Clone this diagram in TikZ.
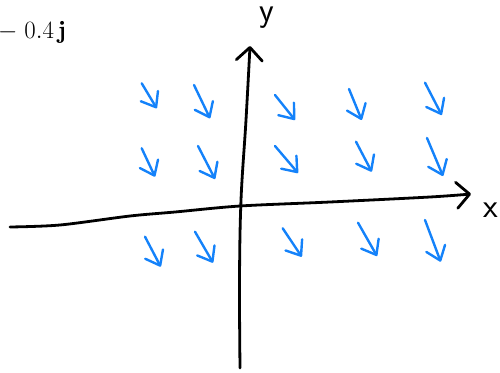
\documentclass[tikz,border=0pt]{standalone}
\usepackage{fontspec}
\usepackage{amsmath,amssymb}
\usepackage{tikz}
\usetikzlibrary{arrows.meta}
\usepackage{xcolor}
\definecolor{fieldblue}{RGB}{20,130,250}
\tikzset{
  axis/.style={line width=2.8pt, black, line cap=round, line join=round,
               -{Straight Barb[round, length=13pt, width=26pt]}},
  vec/.style={line width=2.4pt, fieldblue, line cap=round, line join=round,
              -{Straight Barb[round, length=13pt, width=20pt]}},
  axislabel/.style={font=\sffamily\fontsize{34}{40}\selectfont, inner sep=0pt},
  formula/.style={font=\Huge, inner sep=0pt, anchor=base west},
}

\begin{document}
\begin{tikzpicture}[x=1pt, y=-1pt]
\useasboundingbox (0,0) rectangle (500,372);
\node[formula] (coef) at (-2,38) {$-\;0.4\,\mathbf{j}$};

% axes
\draw[axis] plot[smooth, tension=0.5] coordinates {(10,227) (60,225) (130,216) (175,212) (240,206) (330,202) (430,197) (471,194)};
\draw[axis] plot[smooth, tension=0.6] coordinates {(240,368) (239.5,280) (241,200) (246,120) (250,46)};
\node[axislabel] (ylab) at (267,18) {y};
\node[axislabel] (xlab) at (491,210) {x};

% field
\foreach \sx/\sy/\ex/\ey in {141.7/83.3/156.7/108.3, 194/85/210/118.3, 275/95/295/120,
    349/89/361.7/120, 425/82.7/441.7/115,
    141.7/148.3/155/176.7, 198/146/215/179, 275/146/298/173,
    356/141.7/371.7/171.7, 427/138/443/176,
    145/236.7/160.7/266.7, 195/231.7/213/262.7, 282.7/228.3/301.7/256.7,
    358/222.7/377/256, 425/220/440.7/261.7}
  \draw[vec] (\sx,\sy) -- (\ex,\ey);
\end{tikzpicture}
\end{document}
